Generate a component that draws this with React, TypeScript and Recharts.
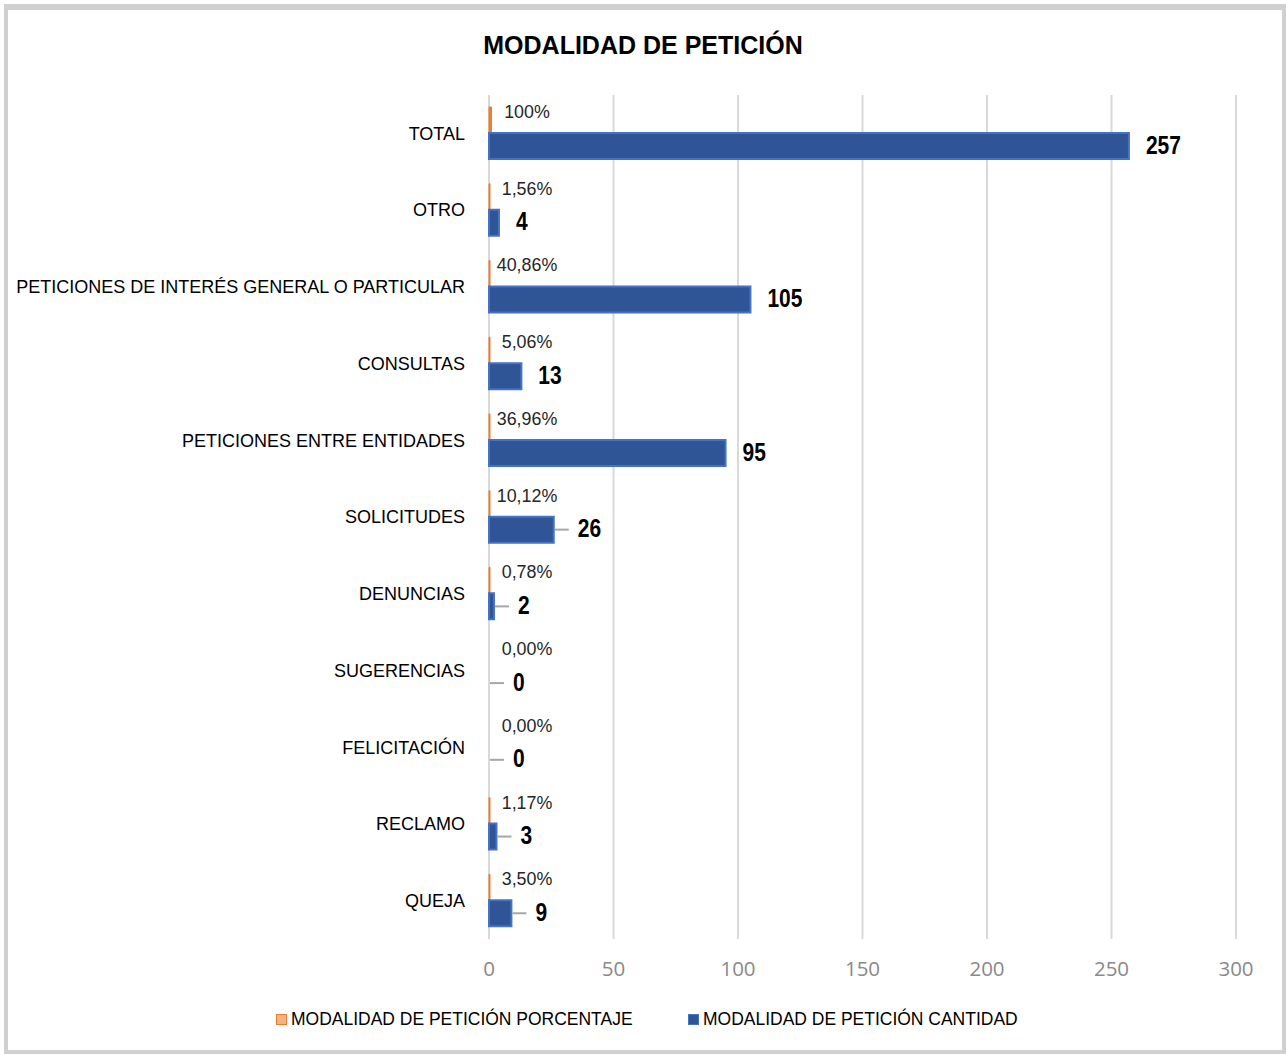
import { Bar, BarChart, CartesianGrid, LabelList, Legend, Rectangle, XAxis, YAxis } from 'recharts';

const categories = [
  'TOTAL',
  'OTRO',
  'PETICIONES DE INTERÉS GENERAL O PARTICULAR',
  'CONSULTAS',
  'PETICIONES ENTRE ENTIDADES',
  'SOLICITUDES',
  'DENUNCIAS',
  'SUGERENCIAS',
  'FELICITACIÓN',
  'RECLAMO',
  'QUEJA',
];
const porcentaje = [1, 0.0156, 0.4086, 0.0506, 0.3696, 0.1012, 0.0078, 0, 0, 0.0117, 0.035];
const cantidad = [257, 4, 105, 13, 95, 26, 2, 0, 0, 3, 9];
const xTicks = [0, 50, 100, 150, 200, 250, 300];

// etiquetas con línea guía (como las mueve Excel)
const conGuia = ['SOLICITUDES', 'DENUNCIAS', 'SUGERENCIAS', 'FELICITACIÓN', 'RECLAMO', 'QUEJA'];

const FONT = '"Liberation Sans", Arial, sans-serif';
const NARANJA = '#ED7D31';
const AZUL = '#2F5597';

const data = categories.map((c, i) => ({
  name: c,
  porcentaje: porcentaje[i],
  cantidad: cantidad[i],
}));

const fmtPct = (v: number) => (v * 100 === 100 ? '100%' : (v * 100).toFixed(2).replace('.', ',') + '%');

// barras en cero: se dejan sin dibujar, pero conservan su etiqueta
function BarraOculta(props: any) {
  if (!props.value) return <g />;
  return <Rectangle {...props} />;
}

function PctLabel(props: any) {
  const { x, y, value } = props;
  return (
    <text
      transform={`translate(${x + 38},${y + 6}) scale(0.94,1)`}
      textAnchor="middle"
      dominantBaseline="middle"
      fontSize={19}
      fill="#262626"
      fontFamily={FONT}
    >
      {fmtPct(value)}
    </text>
  );
}

function CantLabel(props: any) {
  const { x, y, width, height, value, index } = props;
  const end = value ? x + (width || 0) : x;
  const cy = y + height / 2;
  const guia = conGuia.includes(categories[index]);
  const tx = end + (guia ? 24 : 17);
  return (
    <g>
      {guia && <line x1={end + 1} x2={end + 15} y1={cy} y2={cy} stroke="#a6a6a6" strokeWidth={2} />}
      <text
        transform={`translate(${tx},${cy + 1}) scale(0.84,1)`}
        dominantBaseline="middle"
        fontSize={25}
        fontWeight="bold"
        fill="#000"
        fontFamily={FONT}
      >
        {value}
      </text>
    </g>
  );
}

function Leyenda() {
  const items = [
    { label: 'MODALIDAD DE PETICIÓN PORCENTAJE', fill: '#F4B183', stroke: NARANJA, x: 276 },
    { label: 'MODALIDAD DE PETICIÓN CANTIDAD', fill: AZUL, stroke: '#4472C4', x: 688 },
  ];
  return (
    <div style={{ position: 'relative', height: 24 }}>
      {items.map((it) => (
        <div
          key={it.label}
          style={{ position: 'absolute', left: it.x, top: 0, display: 'flex', alignItems: 'center', fontFamily: FONT, fontSize: 19, color: '#000', whiteSpace: 'nowrap' }}
        >
          <span style={{ display: 'inline-block', width: 9, height: 9, background: it.fill, border: `1.5px solid ${it.stroke}`, marginRight: 4 }} />
          <span style={{ display: 'inline-block', transform: 'scaleX(0.92)', transformOrigin: 'left center' }}>{it.label}</span>
        </div>
      ))}
    </div>
  );
}

export default function App() {
  return (
    <div style={{ position: 'absolute', left: 0, top: 0, width: 1286, height: 1054, background: '#fff' }}>
      <div
        style={{
          position: 'absolute',
          left: 4,
          top: 4,
          width: 1274,
          height: 1040,
          border: '4px solid #d0d0d0',
          borderTopWidth: 6,
        }}
      />
      <div
        style={{
          position: 'absolute',
          top: 31,
          left: 0,
          width: 1286,
          textAlign: 'center',
          fontFamily: FONT,
          fontWeight: 'bold',
          fontSize: 25,
          color: '#000',
        }}
      >
        MODALIDAD DE PETICIÓN
      </div>
      <div style={{ position: 'absolute', left: 0, top: 0 }}>
        <BarChart
          width={1286}
          height={1054}
          data={data}
          layout="vertical"
          margin={{ top: 95, right: 50, bottom: 0, left: 0 }}
          barCategoryGap={12}
          barGap={0}
        >
          <CartesianGrid horizontal={false} stroke="#d9d9d9" strokeWidth={2} />
          <XAxis
            type="number"
            domain={[0, 300]}
            ticks={xTicks}
            axisLine={false}
            tickLine={false}
            tickSize={0}
            tickMargin={22}
            height={115}
            tick={{ fontSize: 20.5, fill: '#898989', fontFamily: '"Open Sans", sans-serif' }}
          />
          <YAxis
            type="category"
            dataKey="name"
            width={489}
            axisLine={false}
            tickLine={false}
            tickSize={8}
            tickMargin={16}
            interval={0}
            tick={{ fontSize: 18, fill: '#000', fontFamily: FONT }}
          />
          <Legend verticalAlign="middle" layout="horizontal" wrapperStyle={{ top: 1008, left: 0, width: 1286 }} content={() => <Leyenda />} />
          <Bar
            dataKey="porcentaje"
            fill={NARANJA}
            stroke={NARANJA}
            strokeWidth={1}
            minPointSize={1}
            shape={BarraOculta}
            isAnimationActive={false}
          >
            <LabelList dataKey="porcentaje" content={PctLabel} />
          </Bar>
          <Bar
            dataKey="cantidad"
            fill={AZUL}
            stroke="#4472C4"
            strokeWidth={2}
            minPointSize={1}
            shape={BarraOculta}
            isAnimationActive={false}
          >
            <LabelList dataKey="cantidad" content={CantLabel} />
          </Bar>
        </BarChart>
      </div>
    </div>
  );
}
